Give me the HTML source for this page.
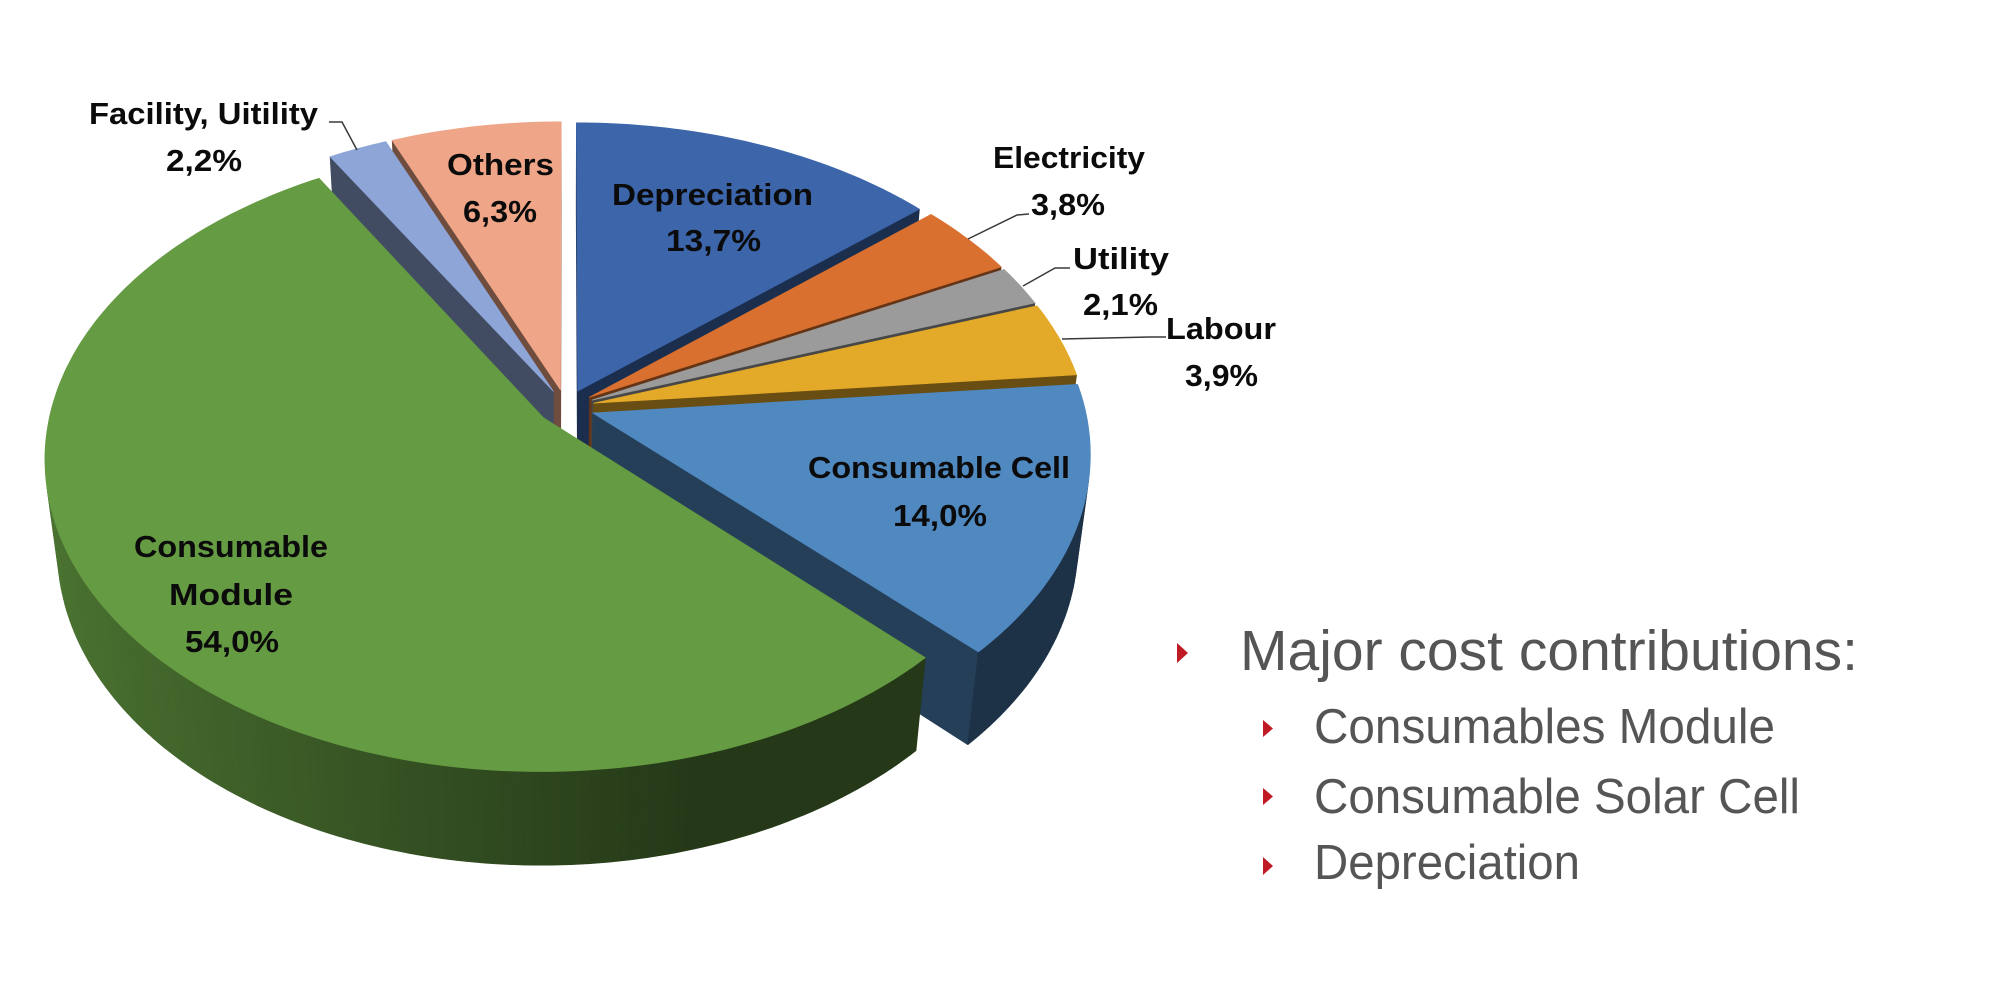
<!DOCTYPE html>
<html>
<head>
<meta charset="utf-8">
<style>
html,body{margin:0;padding:0;background:#ffffff;width:2000px;height:1000px;overflow:hidden;}
svg{display:block;}
.lb{font-family:"Liberation Sans",Arial,sans-serif;font-weight:bold;font-size:31px;fill:#0b0b0b;}
.rt{font-family:"Liberation Sans",Arial,sans-serif;fill:#555555;}
</style>
</head>
<body>
<svg id="s" width="2000" height="1000" viewBox="0 0 2000 1000" xmlns="http://www.w3.org/2000/svg">
<rect x="0" y="0" width="2000" height="1000" fill="#ffffff"/>
<g id="pie"></g>

<g fill="none" stroke="#3a3a3a" stroke-width="1.5">
  <polyline points="329,122 342,122 357,150"/>
  <polyline points="968,239 1017,215 1029,214"/>
  <polyline points="1023,286 1055,268 1070,268"/>
  <polyline points="1062,339 1150,337 1166,337"/>
</g>

<text class="lb" x="89" y="124" textLength="229" lengthAdjust="spacingAndGlyphs">Facility, Uitility</text>
<text class="lb" x="166" y="171" textLength="76" lengthAdjust="spacingAndGlyphs">2,2%</text>
<text class="lb" x="447" y="175" textLength="107" lengthAdjust="spacingAndGlyphs">Others</text>
<text class="lb" x="463" y="222" textLength="74" lengthAdjust="spacingAndGlyphs">6,3%</text>
<text class="lb" x="612" y="205" textLength="201" lengthAdjust="spacingAndGlyphs">Depreciation</text>
<text class="lb" x="666" y="251" textLength="95" lengthAdjust="spacingAndGlyphs">13,7%</text>
<text class="lb" x="993" y="168" textLength="152" lengthAdjust="spacingAndGlyphs">Electricity</text>
<text class="lb" x="1031" y="215" textLength="74" lengthAdjust="spacingAndGlyphs">3,8%</text>
<text class="lb" x="1073" y="269" textLength="96" lengthAdjust="spacingAndGlyphs">Utility</text>
<text class="lb" x="1083" y="315" textLength="75" lengthAdjust="spacingAndGlyphs">2,1%</text>
<text class="lb" x="1166" y="339" textLength="110" lengthAdjust="spacingAndGlyphs">Labour</text>
<text class="lb" x="1185" y="386" textLength="73" lengthAdjust="spacingAndGlyphs">3,9%</text>
<text class="lb" x="808" y="478" textLength="262" lengthAdjust="spacingAndGlyphs">Consumable Cell</text>
<text class="lb" x="893" y="526" textLength="94" lengthAdjust="spacingAndGlyphs">14,0%</text>
<text class="lb" x="134" y="557" textLength="194" lengthAdjust="spacingAndGlyphs">Consumable</text>
<text class="lb" x="169" y="605" textLength="124" lengthAdjust="spacingAndGlyphs">Module</text>
<text class="lb" x="185" y="652" textLength="94" lengthAdjust="spacingAndGlyphs">54,0%</text>

<g fill="#c01b24">
  <polygon points="1177,643 1177,663 1188,653"/>
  <polygon points="1263,720 1263,737 1273,728.5"/>
  <polygon points="1263,788 1263,805 1273,796.5"/>
  <polygon points="1263,857 1263,875 1273,866"/>
</g>
<text class="rt" x="1240" y="670" font-size="57" textLength="618" lengthAdjust="spacingAndGlyphs">Major cost contributions:</text>
<text class="rt" x="1314" y="743" font-size="49" textLength="461" lengthAdjust="spacingAndGlyphs">Consumables Module</text>
<text class="rt" x="1314" y="813" font-size="49" textLength="486" lengthAdjust="spacingAndGlyphs">Consumable Solar Cell</text>
<text class="rt" x="1314" y="879" font-size="49" textLength="266" lengthAdjust="spacingAndGlyphs">Depreciation</text>
</svg>

<script>
(function(){
  var NS="http://www.w3.org/2000/svg";
  var g=document.getElementById("pie");
  var cx=566, cy=407, S=492, D=6.19, s=0.622, c=Math.sqrt(1-s*s), H=0.24, E=0.0575;
  function P(X,Y,Z){var w=D+Z*c-Y*s, u=Y*c+Z*s; return [cx+S*X*D/w, cy-S*u*D/w, w];}
  var data=[
    [13.7,[60,101,170]],
    [3.8,[217,112,47]],
    [2.1,[155,155,155]],
    [3.9,[227,169,40]],
    [14.0,[80,136,192]],
    [54.0,[101,155,66]],
    [2.2,[142,165,215]],
    [6.3,[239,165,135]]
  ];
  var cam=[0,D*s,-D*c];
  var faces=[], tops=[];
  var acc=0;
  function col(rgb,f){return "rgb("+rgb.map(function(v){return Math.max(0,Math.min(255,Math.round(v*f)));}).join(",")+")";}
  data.forEach(function(d){
    var a0=acc/100*360, a1=(acc+d[0])/100*360; acc+=d[0];
    var m=(a0+a1)/2*Math.PI/180, ox=E*Math.sin(m), oz=E*Math.cos(m);
    var n=Math.max(2,Math.ceil((a1-a0)/1));
    var pts=[];
    for(var i=0;i<=n;i++){var t=(a0+(a1-a0)*i/n)*Math.PI/180; pts.push([ox+Math.sin(t), oz+Math.cos(t), t]);}
    var tp=[P(ox,0,oz)];
    pts.forEach(function(p){tp.push(P(p[0],0,p[1]));});
    tops.push({pts:tp, fill:col(d[1],1)});
    for(var j=0;j<n;j++){
      var p=pts[j], q=pts[j+1], tm=(p[2]+q[2])/2;
      var nx=Math.sin(tm), nz=Math.cos(tm);
      var mx=(p[0]+q[0])/2, mz=(p[1]+q[1])/2;
      var dot=(cam[0]-mx)*nx+(cam[2]-mz)*nz;
      if(dot<=0) continue;
      var f=Math.max(0.37,0.45-0.3*Math.sin(tm));
      var quad=[P(p[0],0,p[1]),P(q[0],0,q[1]),P(q[0],-H,q[1]),P(p[0],-H,p[1])];
      faces.push({pts:quad, fill:col(d[1],f), w:P(mx,-H/2,mz)[2]});
    }
    [[a0,-1],[a1,1]].forEach(function(r){
      var t=r[0]*Math.PI/180, nx, nz;
      if(r[1]<0){nx=-Math.cos(t); nz=Math.sin(t);} else {nx=Math.cos(t); nz=-Math.sin(t);}
      var ex=ox+Math.sin(t), ez=oz+Math.cos(t);
      var mx=(ox+ex)/2, mz=(oz+ez)/2;
      var dot=(cam[0]-mx)*nx+(cam[2]-mz)*nz;
      if(dot<=0) return;
      var quad=[P(ox,0,oz),P(ex,0,ez),P(ex,-H,ez),P(ox,-H,oz)];
      faces.push({pts:quad, fill:col(d[1],0.46), w:P(mx,-H/2,mz)[2]});
    });
  });
  faces.sort(function(a,b){return b.w-a.w;});
  function poly(pts,fill){
    var e=document.createElementNS(NS,"polygon");
    e.setAttribute("points",pts.map(function(p){return p[0].toFixed(1)+","+p[1].toFixed(1);}).join(" "));
    e.setAttribute("fill",fill);
    e.setAttribute("stroke",fill);
    e.setAttribute("stroke-width","0.7");
    e.setAttribute("stroke-linejoin","round");
    g.appendChild(e);
  }
  faces.forEach(function(f){poly(f.pts,f.fill);});
  tops.forEach(function(t){poly(t.pts,t.fill);});
})();
</script>
</body>
</html>
